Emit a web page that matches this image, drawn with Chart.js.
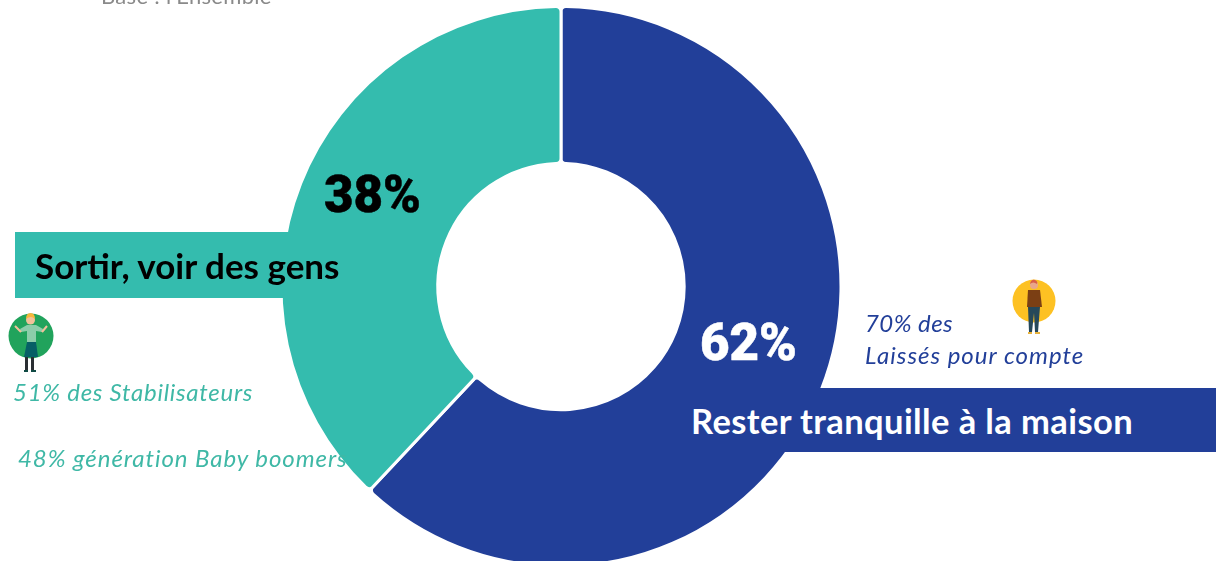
<!DOCTYPE html>
<html lang="fr"><head><meta charset="utf-8">
<script src="https://cdn.jsdelivr.net/npm/chart.js@4"></script>
<style>
html,body{margin:0;padding:0;background:#fff;width:1216px;height:561px;overflow:hidden}
#wrap{position:relative;width:1216px;height:561px;overflow:hidden}
#c{position:absolute;left:0;top:0}
.t{position:absolute;white-space:nowrap;font-family:Lato,sans-serif;line-height:1}
.band{position:absolute}
svg{position:absolute}
</style></head><body>
<div id="wrap">
<canvas id="c" width="1216" height="568" style="width:1216px;height:568px"></canvas>
<div class="band" style="left:15px;top:232px;width:280px;height:66px;background:#34bcae"></div>
<div class="band" style="left:680px;top:388px;width:536px;height:64px;background:#223f99"></div>
<div class="t" style="left:101px;top:-15px;font-size:22px;color:#8a8a8a;letter-spacing:.3px">Base : l'Ensemble</div>
<div class="t" style="left:324px;top:169px;font-family:Roboto,sans-serif;font-weight:900;font-size:51px;color:#000;-webkit-text-stroke:.5px #000">38%</div>
<div class="t" style="left:700px;top:317px;font-family:Roboto,sans-serif;font-weight:900;font-size:51px;color:#fff;-webkit-text-stroke:.5px #fff">62%</div>
<div class="t" style="left:35px;top:248px;font-weight:700;font-size:35px;color:#000">Sortir, voir des gens</div>
<div class="t" style="left:691px;top:404px;font-weight:700;font-size:34.5px;color:#fff;letter-spacing:.4px">Rester tranquille à la maison</div>
<div class="t" style="left:13px;top:380px;font-style:italic;font-size:24px;color:#3fb8a6;letter-spacing:.73px">51% des Stabilisateurs</div>
<div class="t" style="left:18px;top:446px;font-style:italic;font-size:24px;color:#3fb8a6;letter-spacing:.94px">48% génération Baby boomers</div>
<div class="t" style="left:865px;top:311px;font-style:italic;font-size:24px;color:#223f99;letter-spacing:.43px">70% des</div>
<div class="t" style="left:865px;top:343px;font-style:italic;font-size:24px;color:#223f99;letter-spacing:1px">Laissés pour compte</div>

<svg style="left:0;top:305px" width="64" height="72" viewBox="0 0 64 72">
<circle cx="31" cy="31" r="22.5" fill="#21a35c"/>
<path d="M20 24 L27 20 L36 20 L43 24 L42 27 L36 26 L36 38 L27 38 L27 26 L21 27Z" fill="#8ccdaa"/>
<path d="M15 21 L21 27 M47 21 L42 27" stroke="#f2c19a" stroke-width="2"/>
<path d="M27 37 L36 37 L38 52 L24 52Z" fill="#065f66"/>
<path d="M25 52h3v13h-3zM31 52h3v13h-3z" fill="#2a2f33"/>
<path d="M24 65h4v2h-4zM31 65h5v2h-5z" fill="#0f4a44"/>
<circle cx="30.500" cy="15" r="4.500" fill="#f2c19a"/>
<path d="M26 14 Q26 8 30.500 8 Q35 8 35 14 Q31 10 26 14Z" fill="#f6b73c"/>
</svg>
<svg style="left:1005px;top:275px" width="56" height="62" viewBox="0 0 56 62">
<circle cx="29" cy="26" r="21.500" fill="#fdc123"/>
<path d="M23 15 L35 15 L37 32 L22 32Z" fill="#7b3f14"/>
<path d="M23 32 L35 32 L33 57 L30 57 L29 38 L27 57 L24 57Z" fill="#26485a"/>
<path d="M23 57h4v2h-4zM30 57h5v2h-5z" fill="#e8b23c"/>
<circle cx="29" cy="10" r="4" fill="#e9a78b"/>
<path d="M25 9 Q26 4 30 5 Q33 6 32 9 Q28 6 25 9Z" fill="#d9604a"/>
</svg>
</div>
<script>
const categories = ["Rester tranquille à la maison", "Sortir, voir des gens"];
const shares = [62, 38];
const sliceColors = ["#223f99", "#34bcae"];

new Chart(document.getElementById("c"), {
  type: "doughnut",
  data: { labels: categories, datasets: [{ data: shares, backgroundColor: sliceColors,
    borderColor: "#ffffff", borderWidth: 3, borderRadius: 5, hoverOffset: 0 }] },
  options: {
    responsive: false, animation: false, cutout: "44%",
    layout: { padding: { left: 0, right: 94, top: 5, bottom: 0 } },
    plugins: { legend: { display: false }, tooltip: { enabled: false } }
  }
});
</script>
</body></html>
